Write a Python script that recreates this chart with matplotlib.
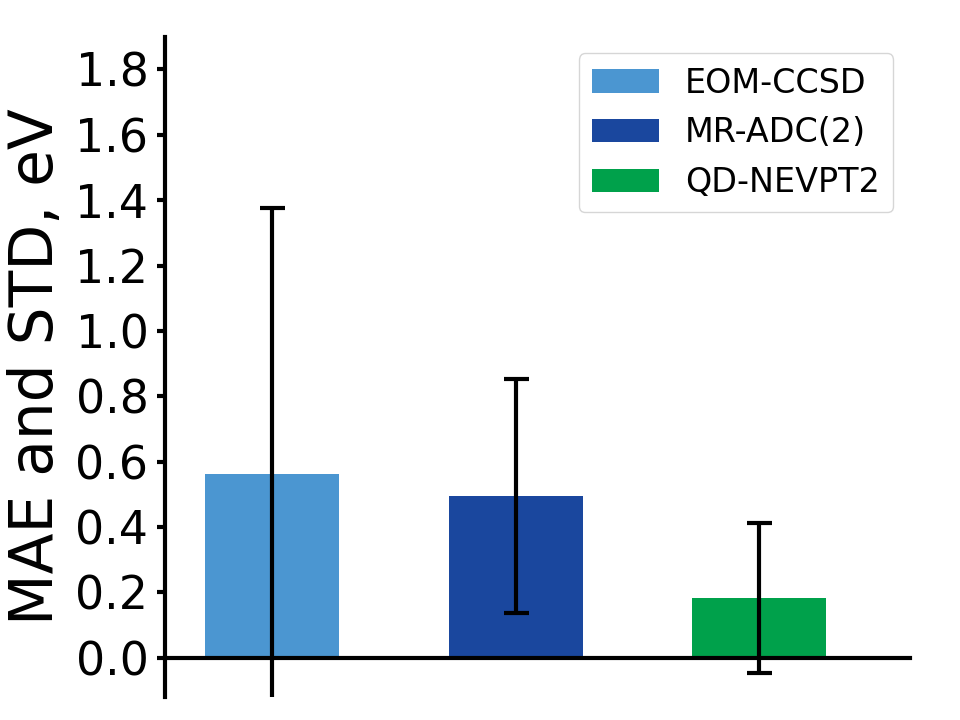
import matplotlib
matplotlib.use("Agg")
import matplotlib.pyplot as plt

methods = ["EOM-CCSD", "MR-ADC(2)", "QD-NEVPT2"]
mae = [0.562, 0.495, 0.183]
std = [0.813, 0.358, 0.230]
colors = ["#4B96D1", "#1A479E", "#00A14B"]

fig = plt.figure(figsize=(9.6, 7.2), dpi=100)
ax = fig.add_axes([0.172, 0.032, 0.776, 0.917])

xs = list(range(len(methods)))
for x, m, s, c, lab in zip(xs, mae, std, colors, methods):
    ax.bar(x, m, width=0.55, color=c, label=lab, zorder=1)
    ax.errorbar(x, m, yerr=s, fmt="none", ecolor="black", elinewidth=3,
                capsize=9, capthick=3, zorder=3)

ax.set_xlim(-0.44, 2.62)
ax.set_ylim(-0.12, 1.9)
ticks = [0.0, 0.2, 0.4, 0.6, 0.8, 1.0, 1.2, 1.4, 1.6, 1.8]
ax.set_yticks(ticks)
ax.set_yticklabels([f"{v:.1f}" for v in ticks])
ax.set_xticks([])

ax.spines["top"].set_visible(False)
ax.spines["right"].set_visible(False)
ax.spines["bottom"].set_position(("data", 0))
ax.spines["left"].set_linewidth(3)
ax.spines["bottom"].set_linewidth(3)
ax.tick_params(axis="y", labelsize=33, width=3, length=6, pad=6)

ax.set_ylabel("MAE and STD, eV", fontsize=43)
ax.yaxis.set_label_coords(-0.133, 0.5)

ax.legend(loc="upper right", fontsize=24)

fig.savefig("out.png", dpi=100)
